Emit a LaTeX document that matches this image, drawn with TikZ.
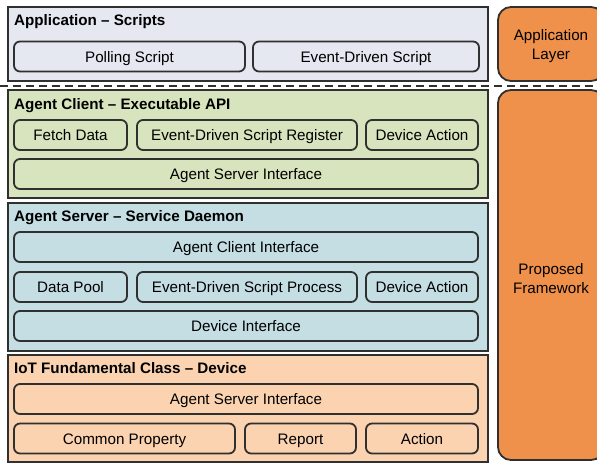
\documentclass[tikz,border=0pt]{standalone}
\usepackage{fontspec}
\setmainfont{Liberation Sans}
\usetikzlibrary{positioning}

\definecolor{appfill}{HTML}{E5E7F1}
\definecolor{clientfill}{HTML}{D8E4BD}
\definecolor{serverfill}{HTML}{C4DEE3}
\definecolor{iotfill}{HTML}{FBD3B1}
\definecolor{layerfill}{HTML}{F0914B}
\definecolor{edge}{HTML}{303030}

\tikzset{
  layerbox/.style={draw=edge, line width=1.6bp, inner sep=0pt, outer sep=0pt},
  part/.style={draw=edge, line width=1.8bp, rounded corners=6bp, inner sep=0pt,
    outer sep=0pt, minimum height=30bp, text height=11.5bp, text depth=0pt,
    font=\fontsize{15.2bp}{18bp}\selectfont},
  title/.style={anchor=base west, inner sep=0pt, font=\fontsize{15.2bp}{18bp}\selectfont\bfseries},
  side/.style={draw=edge, line width=1.8bp, rounded corners=13bp, fill=layerfill,
    inner sep=0pt, outer sep=0pt},
  sidetext/.style={align=center, inner sep=0pt,
    font=\fontsize{15.2bp}{18.5bp}\selectfont},
}

\begin{document}
\begin{tikzpicture}[x=1bp, y=-1bp]
\useasboundingbox (0,0) rectangle (597,464);
\clip (0,0) rectangle (597,464);

% side labels for the two layers
\node[side, minimum width=106bp, minimum height=74bp] (applayer) at (551,44) {};
\node[sidetext] (applayertext) at ([yshift=-2bp]applayer.center) {Application\\Layer};
\node[side, minimum width=106bp, minimum height=370bp] (framework) at (551,275) {};
\node[sidetext] (frameworktext) at ([yshift=-3.5bp]framework.center) {Proposed\\Framework};

% application layer
\node[layerbox, fill=appfill, minimum width=480bp, minimum height=74bp] (app) at (248,44) {};
\node[title] (apptitle) at (14,26) {Application -- Scripts};
\node[part, minimum width=231bp] (poll) at (129.5,56.5) {Polling Script};
\node[part, minimum width=226bp] (evd) at (366,56.5) {Event-Driven Script};

% separator between application and framework
\coordinate (sepL) at (0,86);
\coordinate (sepR) at (597,86);
\draw[edge, line width=1.8bp, dash pattern=on 8bp off 5bp] (sepL) -- (sepR);

% agent client
\node[layerbox, fill=clientfill, minimum width=480bp, minimum height=108bp] (client) at (248,144) {};
\node[title] (clienttitle) at (14,110) {Agent Client -- Executable API};
\node[part, minimum width=113bp] (fetch) at (70.5,135) {Fetch Data};
\node[part, minimum width=220bp] (esreg) at (247,135) {Event-Driven Script Register};
\node[part, minimum width=112bp] (cact) at (422,135) {Device Action};
\node[part, minimum width=464bp] (casi) at (246,174) {Agent Server Interface};

% agent server
\node[layerbox, fill=serverfill, minimum width=480bp, minimum height=148bp] (server) at (248,277) {};
\node[title] (servertitle) at (14,222) {Agent Server -- Service Daemon};
\node[part, minimum width=464bp] (aci) at (246,247) {Agent Client Interface};
\node[part, minimum width=113bp] (pool) at (70.5,287) {Data Pool};
\node[part, minimum width=220bp] (esproc) at (247,287) {Event-Driven Script Process};
\node[part, minimum width=112bp] (sact) at (422,287) {Device Action};
\node[part, minimum width=464bp] (devif) at (246,326) {Device Interface};

% IoT fundamental class
\node[layerbox, fill=iotfill, minimum width=480bp, minimum height=107bp] (iot) at (248,408.5) {};
\node[title] (iottitle) at (14,373) {IoT Fundamental Class -- Device};
\node[part, minimum width=464bp] (iasi) at (246,399) {Agent Server Interface};
\node[part, minimum width=221bp] (common) at (124.5,438.5) {Common Property};
\node[part, minimum width=111bp] (report) at (300.5,438.5) {Report};
\node[part, minimum width=112bp] (iact) at (422,438.5) {Action};
\end{tikzpicture}
\end{document}
